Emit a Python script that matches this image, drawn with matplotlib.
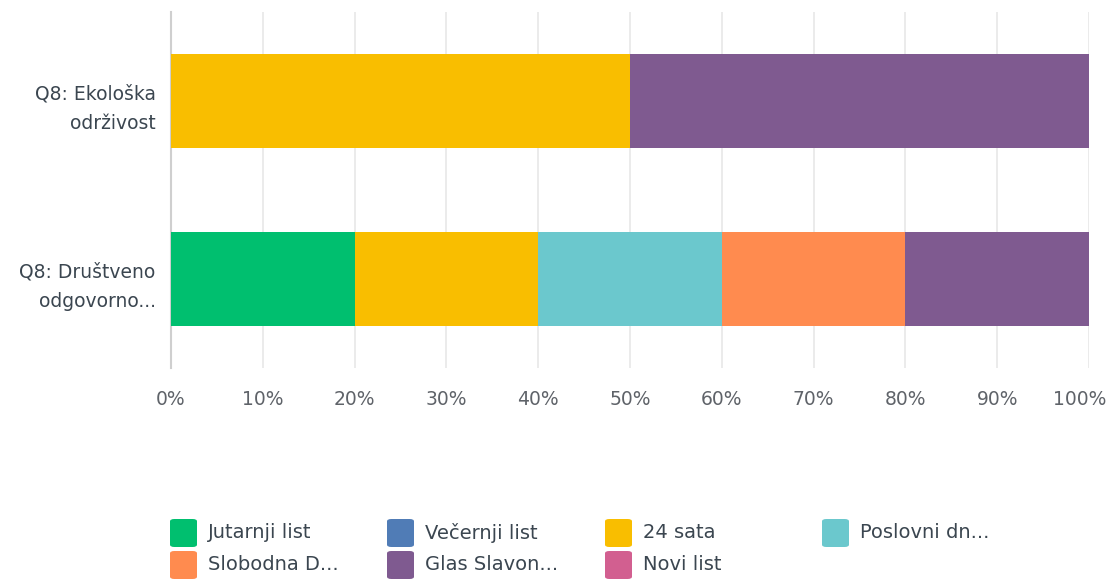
import matplotlib
matplotlib.use("Agg")
import matplotlib.pyplot as plt
import matplotlib.transforms as mtrans
from matplotlib.patches import FancyBboxPatch
from matplotlib.ticker import FuncFormatter

categories = ["Q8: Ekološka\nodrživost", "Q8: Društveno\nodgovorno..."]
series = ["Jutarnji list", "Večernji list", "24 sata", "Poslovni dn...",
          "Slobodna D...", "Glas Slavon...", "Novi list"]
colors = ["#00BF6F", "#507CB6", "#F9BE00", "#6BC8CD", "#FF8B4F", "#7F5A90", "#D25F90"]
values = {
    "Jutarnji list": [0, 20],
    "Večernji list": [0, 0],
    "24 sata": [50, 20],
    "Poslovni dn...": [0, 20],
    "Slobodna D...": [0, 20],
    "Glas Slavon...": [50, 20],
    "Novi list": [0, 0],
}
ticks = [0, 10, 20, 30, 40, 50, 60, 70, 80, 90, 100]

plt.rcParams['font.family'] = ['DejaVu Sans']
W, H = 1110, 581
fig = plt.figure(figsize=(W / 100, H / 100), dpi=100)
ax = fig.add_axes([171 / W, 1 - 368 / H, (1089 - 171) / W, (368 - 12) / H])

ypos = list(range(len(categories)))
left = [0.0] * len(categories)
for name, col in zip(series, colors):
    v = values[name]
    ax.barh(ypos, v, left=left, height=0.53, color=col, edgecolor="none",
            linewidth=0, zorder=3)
    left = [a + b for a, b in zip(left, v)]

ax.set_xlim(0, 100)
ax.set_ylim(1.5, -0.5)
ax.set_yticks(ypos)
ax.set_yticklabels(categories, fontsize=13.5, color="#3b4650", linespacing=1.75)
ax.set_xticks(ticks)
ax.xaxis.set_major_formatter(FuncFormatter(lambda x, p: f"{int(x)}%"))
ax.tick_params(axis="x", length=0, pad=16, labelsize=13.5, labelcolor="#5f6369")
ax.tick_params(axis="y", length=0, pad=11)
ax.grid(axis="x", color="#e8e8e8", linewidth=1.2, zorder=0)
for s in ["top", "right", "bottom"]:
    ax.spines[s].set_visible(False)
ax.spines["left"].set_color("#cfcfcf")
ax.spines["left"].set_linewidth(1.5)

fig.canvas.draw()
last = ax.get_xticklabels()[-1]
last.set_horizontalalignment("right")
last.set_transform(last.get_transform() + mtrans.ScaledTranslation(0.17, 0, fig.dpi_scale_trans))

# legend, row-wise
col_x = [170, 387, 605, 822]
row_y = [533, 565]
for i, (name, col) in enumerate(zip(series, colors)):
    r, c = divmod(i, 4)
    x0 = col_x[c]
    yc = row_y[r]
    p = FancyBboxPatch((x0 / W, 1 - (yc + 14) / H), 27 / W, 28 / H,
                       boxstyle="round,pad=0,rounding_size=0.004",
                       transform=fig.transFigure, facecolor=col, edgecolor="none")
    fig.patches.append(p)
    fig.text((x0 + 38) / W, 1 - yc / H, name, fontsize=14, color="#3b4650",
             va="center", ha="left")

fig.savefig("out.png", dpi=100)
